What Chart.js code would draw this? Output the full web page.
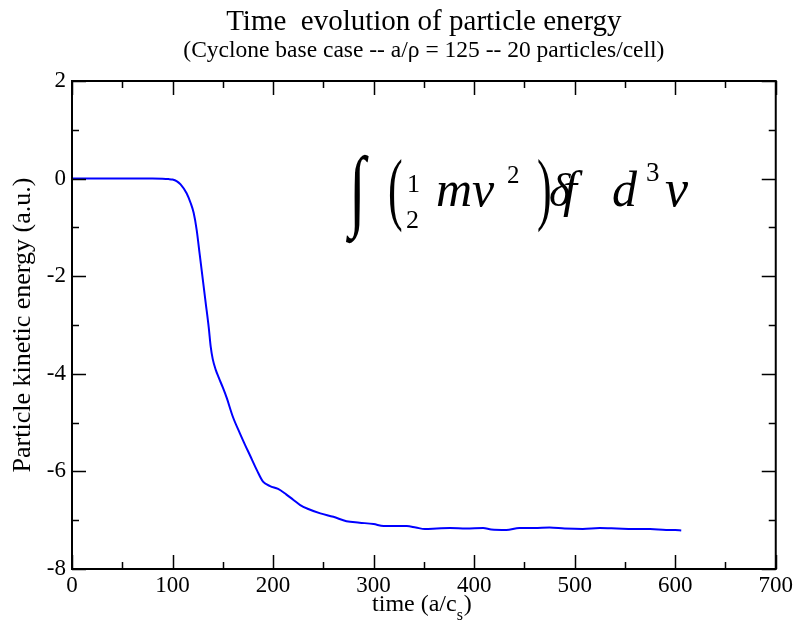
<!DOCTYPE html>
<html>
<head>
<meta charset="utf-8">
<script src="https://cdn.jsdelivr.net/npm/chart.js@4"></script>
<style>
  html, body { margin: 0; padding: 0; background: #fff; }
</style>
</head>
<body>
<canvas id="energyChart" width="796" height="625"></canvas>
<script>
// time (a/c_s) and particle kinetic energy (a.u.)
const times = [0, 20, 40, 60, 80, 90, 96, 100, 104, 108, 114, 118, 121, 124, 127, 130, 133, 136, 138, 140, 143, 146,
  150, 154, 160, 167, 172, 177, 184, 190, 197, 205, 213, 220, 227, 235, 247, 260, 273, 286, 300, 310, 322, 333, 342,
  351, 363, 376, 392, 409, 417, 432, 445, 460, 475, 490, 508, 525, 542, 558, 575, 591, 600, 606];
const energy = [0, 0, 0, 0, 0, -0.003, -0.01, -0.02, -0.05, -0.12, -0.30, -0.50, -0.70, -1.05, -1.55, -2.05, -2.55,
  -3.05, -3.45, -3.70, -3.92, -4.08, -4.28, -4.50, -4.88, -5.22, -5.45, -5.67, -5.98, -6.21, -6.30, -6.36, -6.47,
  -6.58, -6.69, -6.77, -6.86, -6.93, -7.02, -7.05, -7.08, -7.12, -7.12, -7.12, -7.15, -7.18, -7.17, -7.16, -7.17,
  -7.16, -7.19, -7.20, -7.16, -7.16, -7.15, -7.17, -7.18, -7.16, -7.17, -7.18, -7.18, -7.20, -7.20, -7.21];

const xTicks = [0, 100, 200, 300, 400, 500, 600, 700];
const yTicks = [-8, -6, -4, -2, 0, 2];
const xMinorStep = 50;
const yMinorStep = 1;

const serif = "'Liberation Serif', 'Times New Roman', serif";

// box with inward ticks on all four sides, like the original xmgrace frame
const frameTicks = {
  id: 'frameTicks',
  afterDatasetsDraw(chart) {
    const { ctx, chartArea: a, scales: { x, y } } = chart;
    ctx.save();
    ctx.strokeStyle = '#000';
    ctx.lineWidth = 2;
    ctx.strokeRect(a.left, a.top, a.right - a.left, a.bottom - a.top);
    ctx.lineWidth = 1.5;
    ctx.beginPath();
    for (let v = x.min; v <= x.max; v += xMinorStep) {
      const px = Math.round(x.getPixelForValue(v)) + 0.5;
      const len = xTicks.includes(v) ? 14 : 7;
      ctx.moveTo(px, a.bottom); ctx.lineTo(px, a.bottom - len);
      ctx.moveTo(px, a.top); ctx.lineTo(px, a.top + len);
    }
    for (let v = y.min; v <= y.max; v += yMinorStep) {
      const py = Math.round(y.getPixelForValue(v)) + 0.5;
      const len = yTicks.includes(v) ? 14 : 7;
      ctx.moveTo(a.left, py); ctx.lineTo(a.left + len, py);
      ctx.moveTo(a.right, py); ctx.lineTo(a.right - len, py);
    }
    ctx.stroke();
    ctx.restore();
  }
};

// x axis title with subscript, and the energy integral label
const labels = {
  id: 'labels',
  afterDraw(chart) {
    const { ctx, chartArea: a } = chart;
    ctx.save();
    ctx.fillStyle = '#000';
    ctx.textBaseline = 'alphabetic';

    // time (a/c_s)
    ctx.font = '24px ' + serif;
    const main = 'time (a/c';
    const w = ctx.measureText(main).width;
    const cx = (a.left + a.right) / 2 - 2;
    const x0 = cx - (w + 15) / 2;
    ctx.fillText(main, x0, 611);
    ctx.font = '16px ' + serif;
    ctx.fillText('s', x0 + w, 620);
    ctx.font = '24px ' + serif;
    ctx.fillText(')', x0 + w + 7, 611);

    // integral of (1/2 m v^2) delta f d^3 v
    const big = (ch, px, py, size, sy) => {
      ctx.save();
      ctx.translate(px, py);
      ctx.scale(1, sy);
      ctx.font = size + 'px ' + serif;
      ctx.fillText(ch, 0, 0);
      ctx.restore();
    };
    big('\u222B', 349, 219, 60, 1.5);
    big('(', 388, 215, 44, 1.85);
    big(')', 537, 215, 44, 1.85);
    ctx.font = '26px ' + serif;
    ctx.fillText('1', 407, 192);
    ctx.fillText('2', 406, 228);
    ctx.font = 'italic 50px ' + serif;
    ctx.fillText('mv', 436, 206);
    ctx.font = '25px ' + serif;
    ctx.fillText('2', 507, 183);
    ctx.font = 'italic 46px ' + serif;
    ctx.fillText('\u03B4', 549, 206);
    ctx.font = 'italic 50px ' + serif;
    ctx.fillText('f', 563, 206);
    ctx.fillText('d', 612, 206);
    ctx.font = '27px ' + serif;
    ctx.fillText('3', 646, 181);
    ctx.font = 'italic 52px ' + serif;
    ctx.fillText('v', 665, 206);
    ctx.restore();
  }
};

new Chart(document.getElementById('energyChart'), {
  type: 'line',
  data: {
    datasets: [{
      label: 'Particle kinetic energy',
      data: times.map((t, i) => ({ x: t, y: energy[i] })),
      borderColor: '#0000ff',
      borderWidth: 2,
      pointRadius: 0,
      fill: false,
      cubicInterpolationMode: 'monotone'
    }]
  },
  options: {
    responsive: false,
    animation: false,
    layout: { padding: { left: 0, right: 20, top: 0, bottom: 0 } },
    plugins: {
      legend: { display: false },
      tooltip: { enabled: false },
      title: {
        display: true,
        fullSize: false,
        text: 'Time  evolution of particle energy',
        color: '#000',
        font: { family: serif, size: 29, weight: 'normal', lineHeight: 1 },
        padding: { top: 8, bottom: 0 }
      },
      subtitle: {
        display: true,
        fullSize: false,
        text: '(Cyclone base case -- a/\u03C1 = 125 -- 20 particles/cell)',
        color: '#000',
        font: { family: serif, size: 23.5, lineHeight: 1 },
        padding: { top: 2, bottom: 18.5 }
      }
    },
    scales: {
      x: {
        type: 'linear',
        min: 0,
        max: 700,
        afterBuildTicks: s => { s.ticks = xTicks.map(v => ({ value: v })); },
        afterFit: s => { s.height = 56; },
        grid: { display: false, drawTicks: false },
        border: { display: false },
        ticks: { color: '#000', padding: 3, maxRotation: 0, font: { family: serif, size: 23 } }
      },
      y: {
        type: 'linear',
        min: -8,
        max: 2,
        afterBuildTicks: s => { s.ticks = yTicks.map(v => ({ value: v })); },
        afterFit: s => { s.width = 72; },
        grid: { display: false, drawTicks: false },
        border: { display: false },
        ticks: { color: '#000', padding: 6, font: { family: serif, size: 23 } },
        title: {
          display: true,
          text: 'Particle kinetic energy (a.u.)',
          color: '#000',
          font: { family: serif, size: 26 },
          padding: { top: 8, bottom: 0 }
        }
      }
    }
  },
  plugins: [frameTicks, labels]
});
</script>
</body>
</html>
